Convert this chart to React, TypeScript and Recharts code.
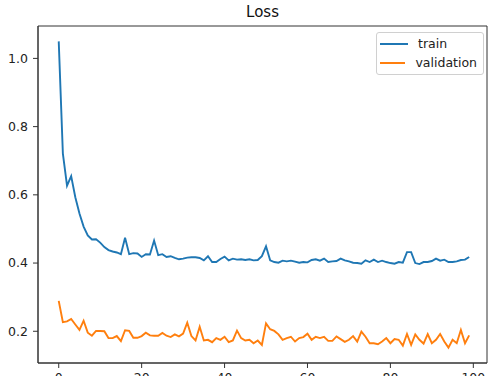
import React from 'react';
import { LineChart, Line, XAxis, YAxis, Legend, ReferenceArea } from 'recharts';

const trainLoss = [
  1.05, 0.721, 0.627, 0.655, 0.593, 0.545, 0.507, 0.481, 0.469, 0.47,
  0.46, 0.447, 0.438, 0.434, 0.431, 0.426, 0.474, 0.426, 0.429, 0.428,
  0.418, 0.426, 0.425, 0.466, 0.423, 0.426, 0.418, 0.42, 0.415, 0.411,
  0.413, 0.416, 0.417, 0.417, 0.415, 0.408, 0.42, 0.403, 0.403, 0.412,
  0.419, 0.408, 0.413, 0.41, 0.411, 0.409, 0.411, 0.408, 0.409, 0.42,
  0.449, 0.408, 0.403, 0.401, 0.407, 0.405, 0.407, 0.404, 0.401, 0.403,
  0.402, 0.409, 0.411, 0.407, 0.413, 0.403, 0.405, 0.406, 0.413, 0.408,
  0.405, 0.401, 0.4, 0.398, 0.408, 0.403, 0.41, 0.403, 0.407, 0.403,
  0.4, 0.398, 0.403, 0.401, 0.432, 0.432, 0.4, 0.397, 0.403, 0.403,
  0.406, 0.413, 0.407, 0.41, 0.403, 0.403, 0.405, 0.409, 0.41, 0.418,
];

const valLoss = [
  0.289, 0.227, 0.229, 0.236, 0.22, 0.204, 0.231, 0.196, 0.187, 0.201,
  0.201, 0.2, 0.18, 0.18, 0.186, 0.171, 0.203, 0.201, 0.181, 0.181,
  0.186, 0.196, 0.188, 0.187, 0.187, 0.195, 0.187, 0.183, 0.191, 0.185,
  0.193, 0.225, 0.186, 0.173, 0.213, 0.173, 0.175, 0.168, 0.18, 0.175,
  0.184, 0.168, 0.173, 0.202, 0.18, 0.173, 0.175, 0.165, 0.173, 0.16,
  0.223, 0.206, 0.201, 0.191, 0.175, 0.18, 0.184, 0.17, 0.18, 0.183,
  0.193, 0.175, 0.184, 0.18, 0.184, 0.172, 0.172, 0.185, 0.177, 0.169,
  0.175, 0.186, 0.17, 0.199, 0.184, 0.165, 0.165, 0.162, 0.17, 0.18,
  0.165, 0.177, 0.175, 0.158, 0.192, 0.16, 0.191, 0.175, 0.164, 0.192,
  0.165, 0.175, 0.192, 0.17, 0.152, 0.175, 0.165, 0.204, 0.165, 0.188,
];

const xTicks = [0, 20, 40, 60, 80, 100];
const yTicks = [0.2, 0.4, 0.6, 0.8, 1.0];

const TRAIN = '#1f77b4';
const VAL = '#ff7f0e';
const FONT = '"DejaVu Sans", sans-serif';

const data = trainLoss.map((t, i) => ({ epoch: i, train: t, validation: valLoss[i] }));

const LegendBox = () => (
  <div
    style={{
      border: '1px solid #d0d0d0',
      borderRadius: 3,
      background: 'rgba(255,255,255,0.8)',
      padding: '1px 6px 2px 3px',
      fontFamily: FONT,
      fontSize: 12.5,
      color: '#222',
      boxSizing: 'border-box',
      textAlign: 'left',
    }}
  >
    {[
      { name: 'train', color: TRAIN },
      { name: 'validation', color: VAL },
    ].map((item) => (
      <div key={item.name} style={{ display: 'flex', alignItems: 'center', height: 19 }}>
        <div style={{ width: 28, height: 2, background: item.color, marginRight: 10 }} />
        <span>{item.name}</span>
      </div>
    ))}
  </div>
);

export default function App() {
  return (
    <div
      style={{
        position: 'fixed',
        left: 0,
        top: 0,
        width: 489,
        height: 376,
        overflow: 'hidden',
        background: '#fff',
      }}
    >
      <div
        style={{
          position: 'absolute',
          left: 38,
          width: 449,
          top: 3,
          textAlign: 'center',
          fontFamily: FONT,
          fontSize: 15,
          color: '#111',
        }}
      >
        Loss
      </div>
      <LineChart
        width={489}
        height={395}
        data={data}
        margin={{ top: 26, right: 2, bottom: 0, left: 0 }}
        style={{ fontFamily: FONT }}
      >
        <XAxis
          dataKey="epoch"
          type="number"
          domain={[-5, 103.3]}
          ticks={xTicks}
          allowDataOverflow
          height={32}
          tickSize={5}
          tickMargin={5}
          stroke="#333"
          tick={{ fill: '#222', fontSize: 12.5 }}
        />
        <YAxis
          type="number"
          domain={[0.107, 1.095]}
          ticks={yTicks}
          allowDataOverflow
          width={38}
          tickSize={5}
          tickMargin={5}
          stroke="#333"
          tick={{ fill: '#222', fontSize: 12.5 }}
          tickFormatter={(v: number) => v.toFixed(1)}
        />
        <ReferenceArea
          x1={-5}
          x2={103.3}
          y1={0.107}
          y2={1.095}
          fill="none"
          stroke="#333"
          strokeWidth={1}
          ifOverflow="extendDomain"
        />
        <Line
          type="linear"
          dataKey="train"
          stroke={TRAIN}
          strokeWidth={1.9}
          dot={false}
          isAnimationActive={false}
        />
        <Line
          type="linear"
          dataKey="validation"
          stroke={VAL}
          strokeWidth={1.9}
          dot={false}
          isAnimationActive={false}
        />
        <Legend
          layout="horizontal"
          verticalAlign="middle"
          align="center"
          content={<LegendBox />}
          wrapperStyle={{ top: 32, left: 376, width: 108 }}
        />
      </LineChart>
    </div>
  );
}
